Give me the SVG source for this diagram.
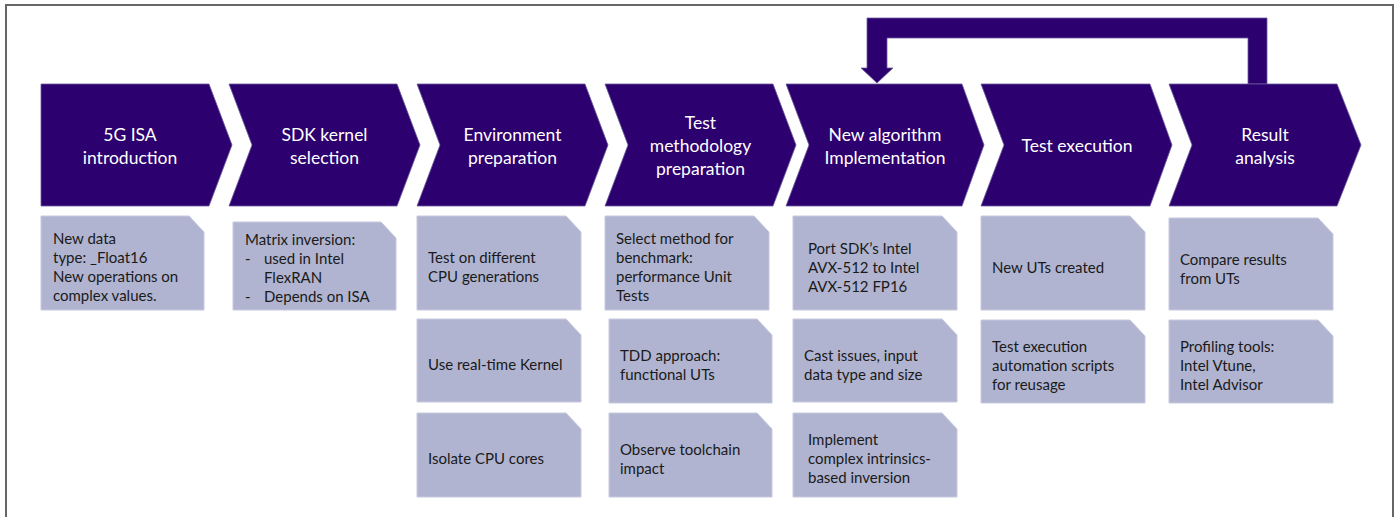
<svg xmlns="http://www.w3.org/2000/svg" width="1399" height="517" viewBox="0 0 1399 517">
<style>
.chev{fill:#2c006e;stroke:#6a5a9c;stroke-width:0.8}
.card{fill:#b0b4d0;stroke:#c6c9dd;stroke-width:1}
.t{font-family:Lato,"Open Sans","Liberation Sans",sans-serif;font-size:17.5px;fill:#ffffff;text-anchor:middle}
.c{font-family:Lato,"Open Sans","Liberation Sans",sans-serif;font-size:15px;fill:#1a1a1a}
</style>
<rect x="0" y="0" width="1399" height="517" fill="#ffffff"/>
<rect x="6" y="5" width="1387" height="530" fill="none" stroke="#666666" stroke-width="2"/>

<g id="connectors">
<polygon class="chev" points="1248,84 1248,38 887,38 887,68 893,68 877,83 861,68 867,68 867,18 1267,18 1267,84"/>
</g>

<g id="step1">
<polygon class="chev" points="41,84 209,84 232,145 209,206 41,206"/>
<text class="t" x="130" y="141">5G ISA</text>
<text class="t" x="130" y="164">introduction</text>
</g>
<g id="step2">
<polygon class="chev" points="229,84 397,84 420,145 397,206 229,206 252,145"/>
<text class="t" x="324.5" y="141">SDK kernel</text>
<text class="t" x="324.5" y="164">selection</text>
</g>
<g id="step3">
<polygon class="chev" points="417,84 585,84 608,145 585,206 417,206 440,145"/>
<text class="t" x="512.5" y="141">Environment</text>
<text class="t" x="512.5" y="164">preparation</text>
</g>
<g id="step4">
<polygon class="chev" points="605,84 773,84 796,145 773,206 605,206 628,145"/>
<text class="t" x="700.5" y="129">Test</text>
<text class="t" x="700.5" y="152">methodology</text>
<text class="t" x="700.5" y="175">preparation</text>
</g>
<g id="step5">
<polygon class="chev" points="786,84 962,84 984,145 962,206 786,206 809,145"/>
<text class="t" x="885" y="141">New algorithm</text>
<text class="t" x="885" y="164">Implementation</text>
</g>
<g id="step6">
<polygon class="chev" points="981,84 1150,84 1172,145 1150,206 981,206 1004,145"/>
<text class="t" x="1077" y="152">Test execution</text>
</g>
<g id="step7">
<polygon class="chev" points="1169,84 1337,84 1361,145 1337,206 1169,206 1192,145"/>
<text class="t" x="1265" y="141">Result</text>
<text class="t" x="1265" y="164">analysis</text>
</g>

<g id="card1a">
<polygon class="card" points="41,216 189,216 204,232 204,310 41,310"/>
<text class="c" x="53" y="244">New data</text>
<text class="c" x="53" y="263">type: _Float16</text>
<text class="c" x="53" y="282">New operations on</text>
<text class="c" x="53" y="301">complex values.</text>
</g>
<g id="card2a">
<polygon class="card" points="233,222 381,222 396,238 396,310 233,310"/>
<text class="c" x="245" y="245">Matrix inversion:</text>
<text class="c" x="245" y="264">-</text>
<text class="c" x="264" y="264">used in Intel</text>
<text class="c" x="264" y="283">FlexRAN</text>
<text class="c" x="245" y="302">-</text>
<text class="c" x="264" y="302">Depends on ISA</text>
</g>

<g id="card3a">
<polygon class="card" points="417,216 566,216 581,232 581,310 417,310"/>
<text class="c" x="428" y="263">Test on different</text>
<text class="c" x="428" y="282">CPU generations</text>
</g>
<g id="card3b">
<polygon class="card" points="417,319 566,319 581,335 581,402 417,402"/>
<text class="c" x="428" y="370">Use real-time Kernel</text>
</g>
<g id="card3c">
<polygon class="card" points="417,413 566,413 581,429 581,497 417,497"/>
<text class="c" x="428" y="464">Isolate CPU cores</text>
</g>

<g id="card4a">
<polygon class="card" points="605,216 754,216 769,232 769,310 605,310"/>
<text class="c" x="616" y="244">Select method for</text>
<text class="c" x="616" y="263">benchmark:</text>
<text class="c" x="616" y="282">performance Unit</text>
<text class="c" x="616" y="301">Tests</text>
</g>
<g id="card4b">
<polygon class="card" points="609,319 757,319 772,335 772,403 609,403"/>
<text class="c" x="620" y="361">TDD approach:</text>
<text class="c" x="620" y="380">functional UTs</text>
</g>
<g id="card4c">
<polygon class="card" points="609,413 757,413 772,429 772,497 609,497"/>
<text class="c" x="620" y="455">Observe toolchain</text>
<text class="c" x="620" y="474">impact</text>
</g>

<g id="card5a">
<polygon class="card" points="793,216 942,216 957,232 957,310 793,310"/>
<text class="c" x="808" y="254">Port SDK’s Intel</text>
<text class="c" x="808" y="273">AVX-512 to Intel</text>
<text class="c" x="808" y="292">AVX-512 FP16</text>
</g>
<g id="card5b">
<polygon class="card" points="793,319 942,319 957,335 957,402 793,402"/>
<text class="c" x="804" y="361">Cast issues, input</text>
<text class="c" x="804" y="380">data type and size</text>
</g>
<g id="card5c">
<polygon class="card" points="793,413 942,413 957,429 957,497 793,497"/>
<text class="c" x="808" y="445">Implement</text>
<text class="c" x="808" y="464">complex intrinsics-</text>
<text class="c" x="808" y="483">based inversion</text>
</g>

<g id="card6a">
<polygon class="card" points="981,216 1130,216 1145,232 1145,310 981,310"/>
<text class="c" x="992" y="273">New UTs created</text>
</g>
<g id="card6b">
<polygon class="card" points="981,320 1130,320 1145,336 1145,403 981,403"/>
<text class="c" x="992" y="352">Test execution</text>
<text class="c" x="992" y="371">automation scripts</text>
<text class="c" x="992" y="390">for reusage</text>
</g>

<g id="card7a">
<polygon class="card" points="1169,218 1318,218 1333,234 1333,310 1169,310"/>
<text class="c" x="1180" y="265">Compare results</text>
<text class="c" x="1180" y="284">from UTs</text>
</g>
<g id="card7b">
<polygon class="card" points="1169,320 1318,320 1333,336 1333,403 1169,403"/>
<text class="c" x="1180" y="352">Profiling tools:</text>
<text class="c" x="1180" y="371">Intel Vtune,</text>
<text class="c" x="1180" y="390">Intel Advisor</text>
</g>
</svg>
